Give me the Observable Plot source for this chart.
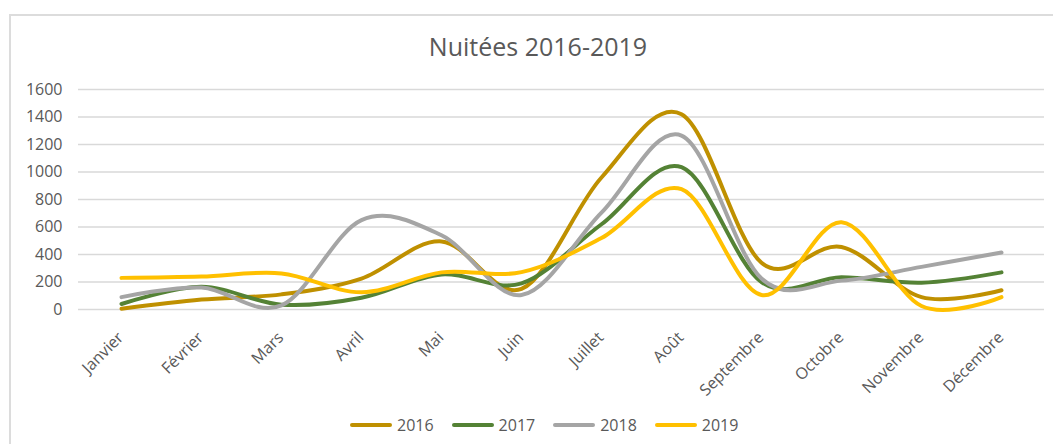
<!DOCTYPE html>
<html>
<head>
<meta charset="utf-8">
<script src="https://cdn.jsdelivr.net/npm/d3@7"></script>
<script src="https://cdn.jsdelivr.net/npm/@observablehq/plot@0.6"></script>
<style>
  html, body { margin: 0; padding: 0; background: #fff; width: 1053px; height: 444px; overflow: hidden; }
  body { position: relative; font-family: "Open Sans", sans-serif; color: #595959; }
  #frame { position: absolute; left: 9px; top: 14px; width: 1100px; height: 500px;
           border-left: 2px solid #dcdcdc; border-top: 2px solid #dcdcdc; }
  #title { position: absolute; left: 0; width: 1076px; top: 29px; text-align: center;
           font-size: 25px; line-height: 34px; color: #595959; }
  #chart { position: absolute; left: 0; top: 70px; }
  #legend { position: absolute; top: 413px; left: 350px; height: 24px; display: flex; align-items: center;
            font-size: 16px; color: #595959; white-space: nowrap; }
  .item { display: flex; align-items: center; margin-right: 18px; }
  .sw { width: 42px; height: 4px; border-radius: 2px; margin-right: 5px; }
</style>
</head>
<body>
<div id="frame"></div>
<div id="title">Nuitées 2016-2019</div>
<div id="chart"></div>
<div id="legend"></div>
<script>
const months = ["Janvier","Février","Mars","Avril","Mai","Juin","Juillet","Août","Septembre","Octobre","Novembre","Décembre"];
const years = ["2016","2017","2018","2019"];
const colors = ["#BF9000","#548235","#A5A5A5","#FFC000"];
const yTicks = [0,200,400,600,800,1000,1200,1400,1600];
const v2016 = [5, 72, 110, 225, 495, 150, 960, 1420, 340, 455, 90, 140];
const v2017 = [40, 165, 35, 85, 255, 190, 620, 1035, 200, 235, 195, 270];
const v2018 = [90, 160, 30, 650, 540, 105, 705, 1265, 225, 210, 310, 415];
const v2019 = [230, 240, 262, 125, 270, 272, 520, 875, 105, 635, 25, 90];

const series = [v2016, v2017, v2018, v2019];
const data = years.flatMap((yr, k) => months.map((m, i) => ({month: m, value: series[k][i], year: yr})));

const chart = Plot.plot({
  width: 1053,
  height: 339,
  marginTop: 19,
  marginBottom: 100,
  marginLeft: 78,
  marginRight: 9,
  style: {fontFamily: "Open Sans", fontSize: "16px", color: "#595959", background: "transparent", overflow: "visible"},
  x: {type: "point", domain: months, padding: 0.5, axis: null},
  y: {domain: [0, 1600], ticks: yTicks, tickSize: 0, tickPadding: 16, tickFormat: "d", label: null},
  color: {domain: years, range: colors},
  marks: [
    Plot.ruleY(yTicks, {stroke: "#d9d9d9", strokeWidth: 1.3}),
    Plot.text(months, {x: d => d, frameAnchor: "bottom", textAnchor: "end", rotate: -45,
                       dx: 3, dy: 29, fill: "#595959", fontSize: 16}),
    Plot.line(data, {x: "month", y: "value", stroke: "year", strokeWidth: 4,
                     curve: "cardinal", strokeLinecap: "round", strokeLinejoin: "round"})
  ]
});
document.getElementById("chart").appendChild(chart);

const legend = document.getElementById("legend");
years.forEach((yr, k) => {
  const it = document.createElement("div");
  it.className = "item";
  const sw = document.createElement("div");
  sw.className = "sw";
  sw.style.background = colors[k];
  const tx = document.createElement("span");
  tx.textContent = yr;
  it.appendChild(sw); it.appendChild(tx);
  legend.appendChild(it);
});
</script>
</body>
</html>
